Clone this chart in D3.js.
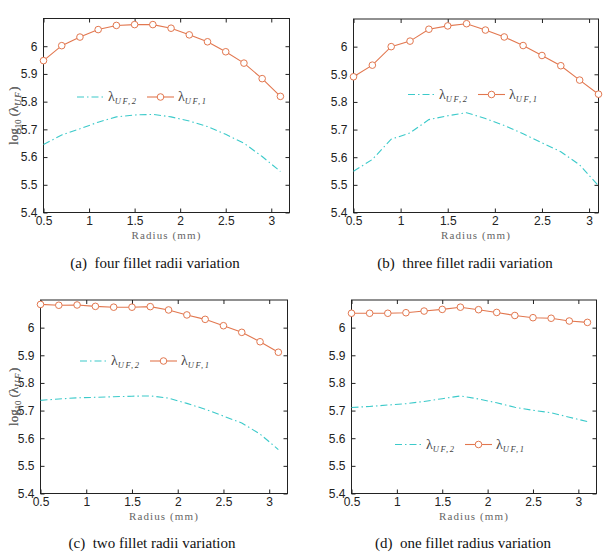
<!DOCTYPE html>
<html>
<head>
<meta charset="utf-8">
<script src="https://cdn.jsdelivr.net/npm/d3@7"></script>
<style>
  body { margin: 0; background: #fff; }
  svg { display: block; }
  .tick text { font-family: "Liberation Sans", Arial, Helvetica, sans-serif; font-size: 12px; fill: #222; }
  .serif { font-family: "Liberation Serif", "Times New Roman", Times, "DejaVu Serif", serif; }
</style>
</head>
<body>
<svg id="chart" width="606" height="555"></svg>
<script>
// radius values shared by all four panels
const radius = [0.5, 0.7, 0.9, 1.1, 1.3, 1.5, 1.7, 1.9, 2.1, 2.3, 2.5, 2.7, 2.9, 3.1];

// (a) four fillet radii variation
const uf1A = [5.948, 6.002, 6.033, 6.060, 6.075, 6.078, 6.078, 6.065, 6.041, 6.016, 5.980, 5.939, 5.883, 5.819];
const uf2A = [5.645, 5.680, 5.702, 5.726, 5.745, 5.752, 5.754, 5.745, 5.730, 5.710, 5.682, 5.650, 5.602, 5.548];
// (b) three fillet radii variation
const uf1B = [5.891, 5.933, 6.000, 6.020, 6.063, 6.075, 6.083, 6.060, 6.035, 6.004, 5.968, 5.931, 5.879, 5.828];
const uf2B = [5.549, 5.592, 5.665, 5.688, 5.736, 5.750, 5.761, 5.740, 5.715, 5.685, 5.652, 5.620, 5.572, 5.497];
// (c) two fillet radii variation
const uf1C = [6.084, 6.081, 6.082, 6.077, 6.074, 6.074, 6.076, 6.064, 6.046, 6.030, 6.007, 5.983, 5.949, 5.911];
const uf2C = [5.737, 5.742, 5.746, 5.748, 5.750, 5.752, 5.753, 5.745, 5.726, 5.705, 5.680, 5.655, 5.615, 5.559];
// (d) one fillet radius variation
const uf1D = [6.052, 6.052, 6.052, 6.054, 6.060, 6.066, 6.074, 6.065, 6.055, 6.044, 6.036, 6.034, 6.024, 6.019];
const uf2D = [5.711, 5.715, 5.720, 5.725, 5.733, 5.743, 5.753, 5.742, 5.728, 5.712, 5.701, 5.692, 5.676, 5.660];

const xTicks = [0.5, 1, 1.5, 2, 2.5, 3];
const yTicks = [5.4, 5.5, 5.6, 5.7, 5.8, 5.9, 6.0];
const captions = ["(a)  four fillet radii variation", "(b)  three fillet radii variation",
                  "(c)  two fillet radii variation", "(d)  one fillet radius variation"];

const orange = "#e2774f";
const cyan = "#3ccaca";

const svg = d3.select("#chart");

// panel frames and legend spots
const panels = [
  { uf1: uf1A, uf2: uf2A, xMax: 3.2, left: 43.5, top: 18.5, right: 289.5, bottom: 212.5, legX: 77, legY: 97, capX: 155, capY: 268 },
  { uf1: uf1B, uf2: uf2B, xMax: 3.1, left: 353.5, top: 19, right: 598.5, bottom: 212.5, legX: 408, legY: 94.5, capX: 465, capY: 268 },
  { uf1: uf1C, uf2: uf2C, xMax: 3.2, left: 40.5, top: 300, right: 287.5, bottom: 493.5, legX: 80, legY: 361, capX: 152, capY: 548 },
  { uf1: uf1D, uf2: uf2D, xMax: 3.2, left: 351.5, top: 300, right: 596.5, bottom: 493.5, legX: 395, legY: 444.5, capX: 463, capY: 548 },
];

function yLabel(g, x, y) {
  const t = g.append("text").attr("class", "serif")
    .attr("transform", `translate(${x},${y}) rotate(-90)`)
    .attr("text-anchor", "middle")
    .style("font-size", "13px")
    .attr("fill", "#666");
  t.append("tspan").text("log");
  t.append("tspan").style("font-size", "8.5px").attr("dy", 3).text("10");
  t.append("tspan").attr("dy", -3).text(" (λ");
  t.append("tspan").style("font-size", "9px").style("font-style", "italic").attr("dy", 3).attr("letter-spacing", 1.5).text("UF");
  t.append("tspan").attr("dy", -3).text(")");
}

function lambdaLabel(g, x, y, sub) {
  const t = g.append("text").attr("class", "serif").attr("x", x).attr("y", y + 4)
    .style("font-size", "14px").attr("fill", "#444");
  t.append("tspan").text("λ");
  t.append("tspan").style("font-size", "8.5px").style("font-style", "italic").attr("dy", 3)
    .attr("letter-spacing", 1.5).text(sub);
}

panels.forEach((p, i) => {
  const x = d3.scaleLinear().domain([0.5, p.xMax]).range([p.left, p.right]);
  const y = d3.scaleLinear().domain([5.4, 6.1]).range([p.bottom, p.top]);
  const g = svg.append("g");

  // frame
  g.append("rect").attr("x", p.left).attr("y", p.top)
    .attr("width", p.right - p.left).attr("height", p.bottom - p.top)
    .attr("fill", "none").attr("stroke", "#222").attr("stroke-width", 1);

  // axes, ticks pointing inward
  const xa = g.append("g").attr("transform", `translate(0,${p.bottom})`)
    .call(d3.axisBottom(x).tickValues(xTicks).tickSizeInner(-4).tickSizeOuter(0).tickPadding(6).tickFormat(d3.format("")));
  const xt = g.append("g").attr("transform", `translate(0,${p.top})`)
    .call(d3.axisTop(x).tickValues(xTicks).tickSizeInner(-4).tickSizeOuter(0).tickFormat(""));
  const ya = g.append("g").attr("transform", `translate(${p.left},0)`)
    .call(d3.axisLeft(y).tickValues(yTicks).tickSizeInner(-4).tickSizeOuter(0).tickPadding(6).tickFormat(d => d3.format("")(+d.toFixed(1))));
  const yr = g.append("g").attr("transform", `translate(${p.right},0)`)
    .call(d3.axisRight(y).tickValues(yTicks).tickSizeInner(-4).tickSizeOuter(0).tickFormat(""));
  [xa, xt, ya, yr].forEach(a => {
    a.attr("font-family", null);
    a.select(".domain").remove();
    a.selectAll(".tick line").attr("stroke", "#222");
  });
  xa.selectAll(".tick text").attr("dy", "0.5em");

  // data lines
  const line2 = d3.line().x((d, k) => x(radius[k])).y(d => y(d));
  g.append("path").datum(p.uf2).attr("d", line2)
    .attr("fill", "none").attr("stroke", cyan).attr("stroke-width", 1.1)
    .attr("stroke-dasharray", "7,3,1.5,3");
  g.append("path").datum(p.uf1).attr("d", line2)
    .attr("fill", "none").attr("stroke", orange).attr("stroke-width", 1.1);
  g.selectAll("circle.m").data(p.uf1).join("circle")
    .attr("class", "m")
    .attr("cx", (d, k) => x(radius[k])).attr("cy", d => y(d)).attr("r", 3.3)
    .attr("fill", "#fff").attr("stroke", orange).attr("stroke-width", 1);

  // legend
  const L = g.append("g");
  L.append("line").attr("x1", p.legX).attr("x2", p.legX + 27).attr("y1", p.legY).attr("y2", p.legY)
    .attr("stroke", cyan).attr("stroke-width", 1.1).attr("stroke-dasharray", "7,3,1.5,3");
  lambdaLabel(L, p.legX + 31, p.legY, "UF,2");
  L.append("line").attr("x1", p.legX + 70).attr("x2", p.legX + 97).attr("y1", p.legY).attr("y2", p.legY)
    .attr("stroke", orange).attr("stroke-width", 1.1);
  L.append("circle").attr("cx", p.legX + 83.5).attr("cy", p.legY).attr("r", 3.3)
    .attr("fill", "#fff").attr("stroke", orange);
  lambdaLabel(L, p.legX + 101, p.legY, "UF,1");

  // axis titles
  yLabel(g, 18, (p.top + p.bottom) / 2);
  g.append("text").attr("class", "serif").attr("x", (p.left + p.right) / 2).attr("y", p.bottom + 26)
    .attr("text-anchor", "middle")
    .style("font-size", "11px").attr("letter-spacing", 1.1).attr("fill", "#666")
    .text("Radius (mm)");

  // caption
  svg.append("text").attr("class", "serif").attr("x", p.capX).attr("y", p.capY)
    .attr("text-anchor", "middle")
    .style("font-size", "15px").attr("fill", "#111")
    .style("white-space", "pre")
    .text(captions[i]);
});
</script>
</body>
</html>
